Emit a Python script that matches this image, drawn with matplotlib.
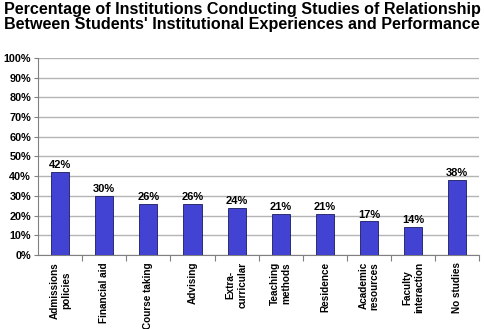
import matplotlib
matplotlib.use("Agg")
import matplotlib.pyplot as plt
from matplotlib.ticker import FuncFormatter

categories = ["Admissions\npolicies", "Financial aid", "Course taking", "Advising",
              "Extra-\ncurricular", "Teaching\nmethods", "Residence",
              "Academic\nresources", "Faculty\ninteraction", "No studies"]
values = [42, 30, 26, 26, 24, 21, 21, 17, 14, 38]

plt.rcParams['font.family'] = ['Liberation Sans', 'DejaVu Sans']

fig = plt.figure(figsize=(4.84, 3.29), dpi=100)
ax = fig.add_axes([0.0785, 0.225, 0.912, 0.599])

x = range(len(values))
ax.bar(x, values, width=0.41, color='#4343D3', edgecolor='#1a1a60', linewidth=0.6, zorder=3)
for xi, v in zip(x, values):
    ax.text(xi, v + 1, f"{v}%", ha='center', va='bottom', fontsize=8, fontweight='bold')

ax.set_xlim(-0.5, len(values) - 0.5)
ax.set_ylim(0, 100)
ax.set_yticks(range(0, 101, 10))
ax.yaxis.set_major_formatter(FuncFormatter(lambda v, p: f"{int(v)}%"))
ax.grid(axis='y', color='#b4b4b4', linewidth=1.0, zorder=0)
ax.set_xticks([i + 0.5 for i in range(len(values))])
ax.set_xticklabels([])
ax.set_xticks(list(x), minor=True)
ax.set_xticklabels(categories, minor=True, rotation=90, fontsize=7.2, fontweight='bold',
                   va='top', ha='center', multialignment='center')
ax.tick_params(axis='x', which='minor', length=0, pad=5)
ax.tick_params(axis='x', which='major', length=4, direction='out', color='#808080')
ax.tick_params(axis='y', length=3, color='#808080', labelsize=7.8, pad=2)
for lbl in ax.get_yticklabels():
    lbl.set_fontweight('bold')
for s in ['top', 'right']:
    ax.spines[s].set_visible(False)
ax.spines['left'].set_color('#808080')
ax.spines['bottom'].set_color('#808080')

fig.text(0.5, 0.995, "Percentage of Institutions Conducting Studies of Relationship\nBetween Students' Institutional Experiences and Performance",
         ha='center', va='top', fontsize=11.6, fontweight='bold', linespacing=1.0)

fig.savefig("out.png", dpi=100)
